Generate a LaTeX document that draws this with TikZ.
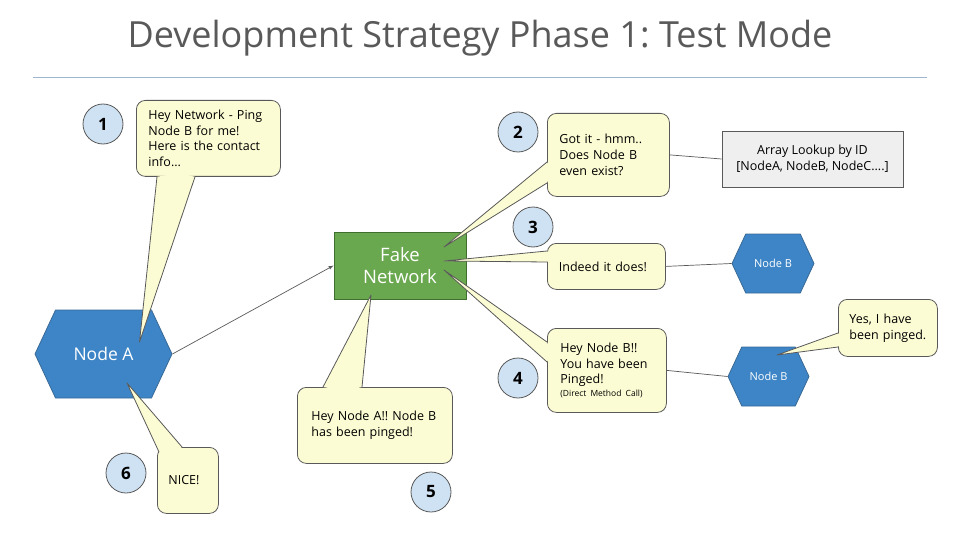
\documentclass[tikz,border=0pt]{standalone}
\usepackage{fontspec}
\setmainfont{Open Sans}
\usetikzlibrary{calc,shapes.symbols}
\frenchspacing

\definecolor{bubbleyellow}{HTML}{FCFCD4}
\definecolor{edgegray}{HTML}{595959}
\definecolor{stepblue}{HTML}{CFE2F3}
\definecolor{hexblue}{HTML}{3D85C6}
\definecolor{hexedge}{HTML}{3A6A96}
\definecolor{netgreen}{HTML}{6AA84F}
\definecolor{netedge}{HTML}{3F6E2E}
\definecolor{lookupgray}{HTML}{EFEFEF}
\definecolor{titlegray}{HTML}{595959}
\definecolor{rulegray}{HTML}{9DB7D2}

\tikzset{
  bubble/.style={draw=edgegray, line width=0.8pt, fill=bubbleyellow, rounded corners=9pt, anchor=north west,
    align=left, font=\fontsize{12.5}{15.8}\selectfont, inner xsep=12pt, inner ysep=0pt},
  stepnum/.style={circle, draw=edgegray, line width=0.8pt, fill=stepblue, minimum size=40pt, inner sep=0pt,
    font=\fontsize{17}{17}\selectfont\bfseries},
  hexnode/.style={signal, signal to=east and west, signal pointer angle=130,
    draw=hexedge, line width=0.8pt, fill=hexblue, text=white, inner sep=0pt},
  link/.style={draw=edgegray, line width=0.7pt},
}

% tail of a speech bubble: bubble, base point, base point, tip
\newcommand{\calltail}[4]{%
  \coordinate (tA) at (#2);
  \coordinate (tB) at (#3);
  \coordinate (tT) at (#4);
  \fill[bubbleyellow] (tA) -- (tT) -- (tB) -- ($(tA)!0.5!(tB)!5pt!(#1.center)$) -- cycle;
  \draw[edgegray, line width=0.8pt, line join=round] (tA) -- (tT) -- (tB);
}

\begin{document}
\begin{tikzpicture}[x=1pt,y=-1pt]
  \useasboundingbox (0,0) rectangle (960,540);

  % Title and rule
  \node[text=titlegray, font=\fontsize{36}{40}\selectfont] (title) at (480,38) {Development Strategy Phase 1: Test Mode};
  \draw[rulegray, line width=0.8pt] (33,77) -- (927,77);

  % Main nodes
  \node[hexnode, minimum width=137pt, minimum height=88pt, font=\fontsize{17.5}{17.5}\selectfont] (na) at (103.5,354) {Node A};
  \node[draw=netedge, line width=0.8pt, fill=netgreen, text=white, minimum width=132pt, minimum height=67pt,
    align=center, font=\fontsize{18.5}{22}\selectfont] (fn) at (400,265.5) {Fake\\Network};
  \node[hexnode, minimum width=82pt, minimum height=59pt, font=\fontsize{11}{11}\selectfont] (nb1) at (773,263.5) {Node B};
  \node[hexnode, minimum width=81pt, minimum height=59pt, font=\fontsize{11}{11}\selectfont] (nb2) at (768.5,376.5) {Node B};
  \node[draw=edgegray, line width=0.8pt, fill=lookupgray, minimum width=181pt, minimum height=56pt, align=center,
    font=\fontsize{12.5}{16}\selectfont] (lookup) at (812.5,159) {Array Lookup by ID\\{}[NodeA, NodeB, NodeC....]};

  % Step numbers
  \node[stepnum] (s1) at (103,124) {1};
  \node[stepnum] (s2) at (518,132) {2};
  \node[stepnum] (s3) at (533,227) {3};
  \node[stepnum] (s4) at (518,378) {4};
  \node[stepnum] (s5) at (431,492) {5};
  \node[stepnum] (s6) at (126,473) {6};

  % Speech bubbles
  \node[bubble, minimum height=76pt, text width=120pt] (b1) at (136,100) {Hey Network - Ping\\Node B for me!\\Here is the contact\\info...};
  \node[bubble, minimum height=83pt, text width=98pt] (b2) at (547,113) {Got it - hmm..\\Does Node B\\even exist?};
  \node[bubble, minimum height=46pt, text width=95pt, inner xsep=11.5pt] (b3) at (547,243) {Indeed it does!};
  \node[bubble, minimum height=84pt, text width=93pt, inner xsep=13pt] (b4) at (547,328)
    {Hey Node B!!\\You have been\\Pinged!\\[-3pt]{\fontsize{8.5}{10}\selectfont (Direct Method Call)}};
  \node[bubble, minimum height=76pt, text width=127pt, inner xsep=14pt] (b5) at (297,387) {Hey Node A!! Node B\\has been pinged!};
  \node[bubble, minimum height=66pt, text width=39pt, inner xsep=11pt] (b6) at (157,447) {NICE!};
  \node[bubble, minimum height=57pt, text width=77pt, inner xsep=11pt] (b7) at (838,299) {Yes, I have\\been pinged.};

  % Connectors
  \draw[link, -latex] (na.east) -- (fn.west);
  \draw[link] (b2.east) -- (lookup.west);
  \draw[link] (b3.east) -- (nb1.west);
  \draw[link] (b4.east) -- (nb2.west);

  % Bubble tails
  \calltail{b1}{$(b1.south west)+(21,0)$}{$(b1.south west)+(59,0)$}{$(na.center)+(36,-12)$}
  \calltail{b2}{$(b2.north west)+(0,49)$}{$(b2.north west)+(0,70)$}{$(fn.center)+(44,-18.5)$}
  \calltail{b3}{$(b3.north west)+(0,8)$}{$(b3.north west)+(0,19)$}{$(fn.center)+(44,-4.5)$}
  \calltail{b4}{$(b4.north west)+(0,14)$}{$(b4.north west)+(0,34)$}{$(fn.center)+(44,4.5)$}
  \calltail{b5}{$(b5.north west)+(26,0)$}{$(b5.north west)+(65,0)$}{$(fn.center)+(-29,29.5)$}
  \calltail{b6}{$(b6.north west)+(2,5)$}{$(b6.north west)+(25,0)$}{$(na.center)+(23.5,29)$}
  \calltail{b7}{$(b7.north west)+(0,34)$}{$(b7.north west)+(0,48)$}{$(nb2.center)+(8.5,-21.5)$}

\end{tikzpicture}
\end{document}
